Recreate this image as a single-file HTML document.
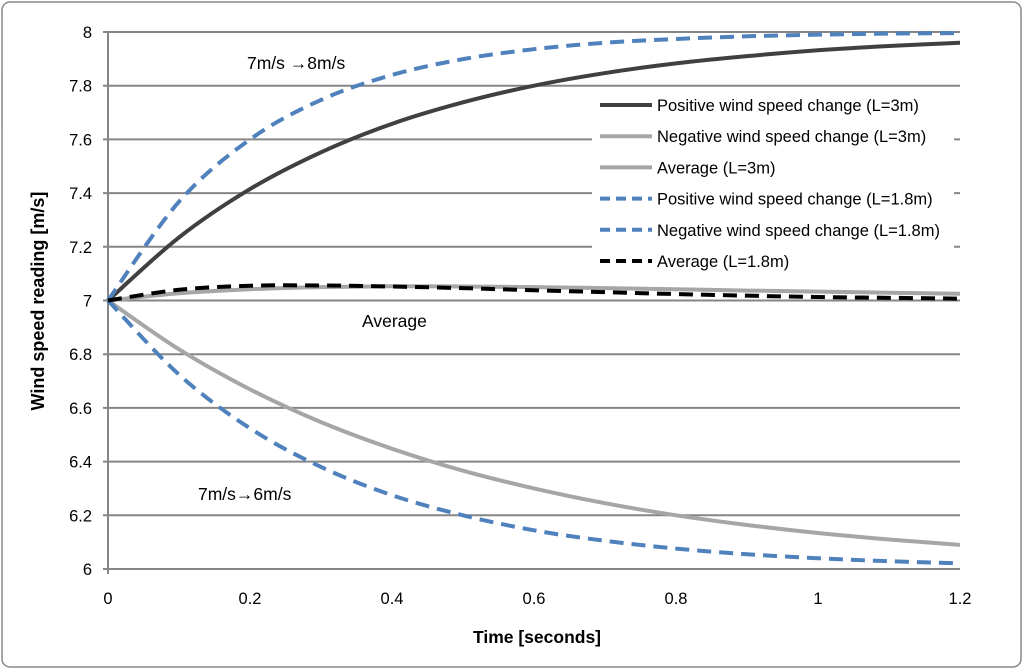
<!DOCTYPE html>
<html><head><meta charset="utf-8"><style>
body{margin:0;background:#fff;}
svg{display:block;font-family:"Liberation Sans",sans-serif;}
</style></head><body>
<svg id="chart" width="1024" height="670">
<rect x="2" y="2" width="1019" height="665" rx="8" fill="#fff" stroke="#888" stroke-width="1.5"/>
<g id="grid"></g>
<g id="ticks"></g>
<g id="series"></g>
<text x="44" y="301" transform="rotate(-90 44 301)" text-anchor="middle" font-size="18" font-weight="bold">Wind speed reading [m/s]</text>
<text x="537" y="643" text-anchor="middle" font-size="17.5" font-weight="bold">Time [seconds]</text>
<text x="247" y="69" font-size="17.5">7m/s →8m/s</text>
<text x="362" y="327" font-size="17.5">Average</text>
<text x="198" y="500" font-size="17.5">7m/s→6m/s</text>
<g id="legend"></g>
</svg>
<script>
const times=[0,0.1,0.2,0.3,0.4,0.5,0.6,0.7,0.8,0.9,1.0,1.1,1.2];
const posL3=[7,7.235,7.415,7.552,7.658,7.738,7.80,7.847,7.883,7.910,7.932,7.948,7.96];
const negL3=[7,6.818,6.669,6.547,6.448,6.366,6.30,6.245,6.20,6.164,6.134,6.11,6.09];
const avgL3=[7,7.027,7.042,7.050,7.053,7.052,7.05,7.046,7.042,7.037,7.033,7.029,7.025];
const posL18=[7,7.368,7.6,7.747,7.84,7.899,7.936,7.96,7.974,7.984,7.99,7.994,7.996];
const negL18=[7,6.724,6.524,6.38,6.275,6.2,6.144,6.105,6.076,6.055,6.04,6.029,6.021];
const avgL18=[7,7.04,7.055,7.056,7.052,7.046,7.038,7.031,7.024,7.018,7.013,7.01,7.007];
const xTicks=[0,0.2,0.4,0.6,0.8,1,1.2];
const yTicks=[6,6.2,6.4,6.6,6.8,7,7.2,7.4,7.6,7.8,8];
const legendLabels=["Positive wind speed change (L=3m)","Negative wind speed change (L=3m)","Average (L=3m)","Positive wind speed change (L=1.8m)","Negative wind speed change (L=1.8m)","Average (L=1.8m)"];
const NS="http://www.w3.org/2000/svg";
const X0=108,X1=960,Y0=569,Y1=32;
function sx(t){return X0+(t-0)/(1.2-0)*(X1-X0);}
function sy(v){return Y0-(v-6)/(8-6)*(Y0-Y1);}
function mk(tag,attrs,parent){const e=document.createElementNS(NS,tag);for(const k in attrs)e.setAttribute(k,attrs[k]);parent.appendChild(e);return e;}
const grid=document.getElementById('grid'),ticks=document.getElementById('ticks');
yTicks.forEach(v=>{
 const l=mk('line',{x1:X0-5,x2:X1,y1:sy(v),y2:sy(v),stroke:'#868686','stroke-width':2},grid);
 
 
 const t=mk('text',{x:92,y:sy(v)+6,'text-anchor':'end','font-size':16.5},ticks);t.textContent=String(v);
 
 
});
const ax=mk('line',{x1:X0,x2:X0,y1:Y1,y2:Y0+5,stroke:'#868686','stroke-width':2},grid);


xTicks.forEach(v=>{
 const t=mk('text',{x:sx(v),y:604,'text-anchor':'middle','font-size':16.5},ticks);t.textContent=String(v);
 
 
});
function pathOf(vals){
 const p=vals.map((v,i)=>[sx(times[i]),sy(v)]);
 let d='M'+p[0][0]+','+p[0][1];
 for(let i=0;i<p.length-1;i++){
  const p0=p[Math.max(0,i-1)],p1=p[i],p2=p[i+1],p3=p[Math.min(p.length-1,i+2)];
  const c1=[p1[0]+(p2[0]-p0[0])/6,p1[1]+(p2[1]-p0[1])/6];
  const c2=[p2[0]-(p3[0]-p1[0])/6,p2[1]-(p3[1]-p1[1])/6];
  d+=' C'+c1+' '+c2+' '+p2;
 }
 return d;
}
const styles=[
 {vals:posL3,c:'#404040',dash:'',n:'series-positive-l3'},
 {vals:negL3,c:'#a6a6a6',dash:'',n:'series-negative-l3'},
 {vals:avgL3,c:'#a6a6a6',dash:'',n:'series-average-l3'},
 {vals:posL18,c:'#4f81bd',dash:'14,8',n:'series-positive-l18'},
 {vals:negL18,c:'#4f81bd',dash:'14,8',n:'series-negative-l18'},
 {vals:avgL18,c:'#000',dash:'14,8',n:'series-average-l18'}];
const sg=document.getElementById('series');
styles.forEach(s=>{
 const p=mk('path',{d:pathOf(s.vals),fill:'none',stroke:s.c,'stroke-width':4,'stroke-dasharray':s.dash},sg);
 
 
});
const lg=document.getElementById('legend');
mk('rect',{x:592,y:88,width:362,height:186,fill:'#fff'},lg);
legendLabels.forEach((lab,i)=>{
 const y=105+i*31.2;
 const l=mk('line',{x1:600,x2:652,y1:y,y2:y,stroke:styles[i].c,'stroke-width':4,'stroke-dasharray':styles[i].dash?'10,6':''},lg);
 
 
 const t=mk('text',{x:657,y:y+6,'font-size':16.5},lg);t.textContent=lab;
 
 
});
</script>
</body></html>
